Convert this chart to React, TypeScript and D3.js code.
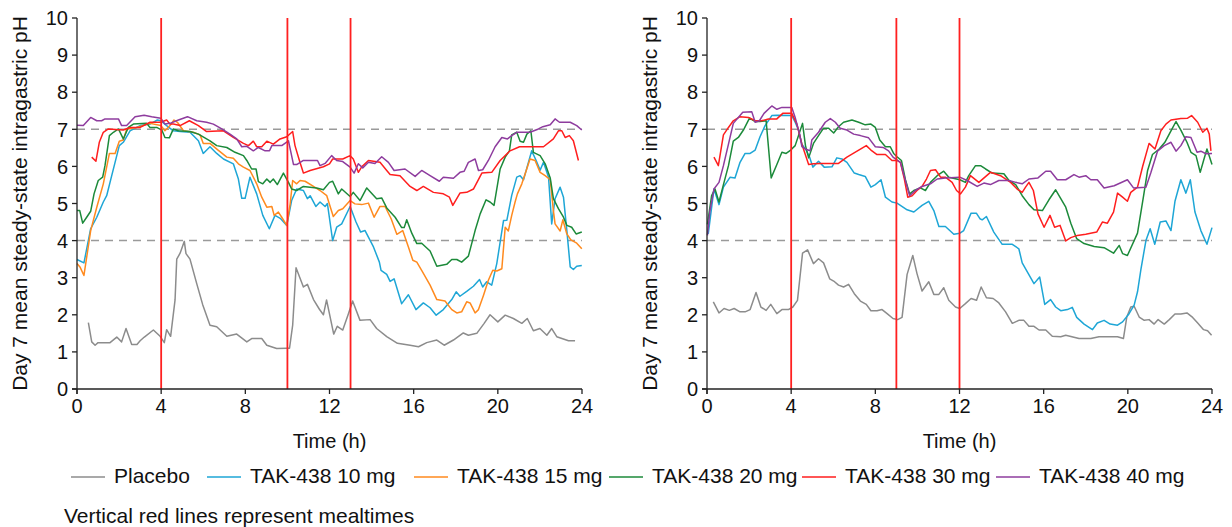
import React from 'react';
import * as d3 from 'd3';

type Pt = [number, number];

// axes
const hourTicks = [0, 4, 8, 12, 16, 20, 24];
const phTicks = [0, 1, 2, 3, 4, 5, 6, 7, 8, 9, 10];
const refLevels = [4, 7];
const mealsLeft = [4, 10, 13];
const mealsRight = [4, 9, 12];

const seriesNames = ['Placebo', 'TAK-438 10 mg', 'TAK-438 15 mg', 'TAK-438 20 mg', 'TAK-438 30 mg', 'TAK-438 40 mg'];
const seriesColors = ['#8c8c8c', '#1ea6d6', '#ff8a1e', '#1c8a3a', '#ff1e1e', '#8e3c9e'];

// left panel  [hour, pH]
const leftPlacebo: Pt[] = [[0.54,1.79],[0.7,1.27],[0.86,1.18],[1.0,1.25],[1.57,1.25],[1.89,1.4],[2.12,1.27],[2.33,1.63],[2.6,1.2],[2.85,1.2],[3.0,1.3],[3.2,1.4],[3.63,1.59],[3.95,1.42],[4.15,1.25],[4.26,1.6],[4.45,1.42],[4.66,2.4],[4.74,3.5],[4.9,3.66],[5.1,3.98],[5.18,3.65],[5.37,3.5],[5.69,2.84],[5.97,2.28],[6.32,1.72],[6.64,1.68],[7.12,1.42],[7.59,1.48],[8.07,1.27],[8.3,1.36],[8.78,1.36],[9.02,1.18],[9.49,1.09],[9.97,1.1],[10.1,1.1],[10.25,1.72],[10.41,3.27],[10.76,2.75],[10.95,2.82],[11.24,2.41],[11.52,2.15],[11.71,2.0],[11.86,2.4],[12.2,1.48],[12.37,1.69],[12.63,1.59],[12.9,2.03],[13.1,2.37],[13.45,1.85],[13.93,1.87],[14.24,1.63],[14.72,1.41],[15.23,1.23],[15.83,1.18],[16.23,1.14],[16.62,1.25],[17.1,1.32],[17.45,1.18],[17.89,1.32],[18.36,1.51],[18.6,1.45],[19.0,1.5],[19.35,1.77],[19.63,2.0],[20.0,1.81],[20.35,1.99],[20.74,1.9],[21.14,1.77],[21.4,1.9],[21.69,1.57],[22.0,1.63],[22.33,1.45],[22.56,1.63],[22.8,1.41],[23.36,1.3],[23.67,1.3]];
const left10: Pt[] = [[0,3.49],[0.33,3.4],[0.65,4.32],[0.94,4.63],[1.25,5.04],[1.41,5.21],[1.65,5.75],[2.01,6.56],[2.2,6.65],[2.52,6.96],[3.0,7.1],[3.47,7.14],[3.82,7.25],[3.98,7.23],[4.26,7.1],[4.58,6.96],[4.9,6.94],[5.37,6.92],[5.77,6.69],[6.0,6.35],[6.32,6.53],[6.64,6.35],[6.96,6.2],[7.43,6.07],[7.67,5.66],[7.83,5.14],[7.99,5.14],[8.22,5.71],[8.54,5.26],[8.83,4.68],[9.14,4.32],[9.41,4.68],[9.68,4.59],[9.97,4.41],[10.2,5.08],[10.44,5.39],[10.76,5.35],[10.95,5.13],[11.08,5.21],[11.35,4.92],[11.55,5.04],[11.79,4.92],[11.9,5.0],[12.15,4.0],[12.34,4.36],[12.58,4.45],[12.98,4.92],[13.26,4.5],[13.48,4.23],[13.69,4.27],[14.09,3.83],[14.37,3.42],[14.45,3.2],[14.72,3.09],[14.88,2.9],[15.07,2.97],[15.43,2.3],[15.75,2.54],[16.11,2.14],[16.46,2.32],[16.78,2.19],[17.07,1.99],[17.41,2.14],[17.81,2.41],[18.02,2.62],[18.2,2.5],[18.52,2.63],[18.84,2.77],[19.13,2.95],[19.28,2.75],[19.47,2.89],[19.71,2.8],[19.95,3.38],[20.27,4.54],[20.43,4.55],[20.66,5.22],[20.9,5.71],[21.06,5.75],[21.22,5.64],[21.34,5.88],[21.61,6.42],[21.82,6.16],[22.01,5.9],[22.17,6.11],[22.41,5.71],[22.56,4.45],[22.72,5.13],[22.96,5.44],[23.12,5.17],[23.28,4.27],[23.44,3.29],[23.59,3.22],[23.75,3.31],[23.99,3.33]];
const left15: Pt[] = [[0,3.38],[0.14,3.29],[0.33,3.06],[0.65,4.27],[0.94,4.9],[1.25,5.53],[1.54,6.35],[1.81,6.35],[2.01,6.68],[2.2,6.71],[2.36,7.0],[2.84,7.05],[3.47,7.16],[3.98,7.1],[4.18,6.96],[4.42,7.1],[4.61,7.25],[4.77,7.19],[5.06,6.96],[5.53,6.92],[5.85,6.85],[6.0,6.62],[6.32,6.62],[6.72,6.43],[7.12,6.25],[7.43,6.22],[7.67,6.07],[7.91,5.98],[8.22,5.89],[8.54,5.53],[8.78,5.17],[9.02,4.9],[9.26,4.92],[9.37,4.68],[9.57,4.77],[9.73,4.63],[9.97,4.41],[10.13,4.99],[10.25,5.62],[10.44,5.53],[10.6,5.62],[10.84,5.6],[11.24,5.46],[11.55,5.35],[11.87,5.21],[12.18,4.65],[12.42,4.81],[12.63,4.86],[12.98,5.08],[13.21,4.99],[13.53,4.97],[13.85,5.01],[14.12,4.63],[14.4,4.92],[14.64,4.92],[14.93,4.59],[15.2,4.17],[15.48,4.27],[15.75,3.83],[15.96,3.47],[16.15,3.42],[16.38,3.2],[16.78,2.8],[17.1,2.41],[17.49,2.37],[17.81,2.14],[18.05,2.05],[18.28,2.08],[18.52,2.35],[18.68,2.32],[18.92,2.05],[19.08,2.14],[19.32,2.53],[19.55,2.93],[19.76,3.2],[19.95,3.18],[20.19,3.24],[20.35,4.36],[20.5,4.26],[20.66,4.68],[20.82,5.04],[20.93,5.26],[21.14,5.53],[21.3,5.8],[21.53,6.2],[21.77,6.16],[22.01,5.84],[22.25,5.75],[22.49,5.64],[22.64,4.81],[22.72,4.45],[22.96,4.26],[23.09,4.56],[23.28,4.18],[23.47,4.02],[23.75,3.93],[23.99,3.78]];
const left20: Pt[] = [[0,4.81],[0.13,4.81],[0.27,4.47],[0.46,4.63],[0.65,4.79],[0.81,5.26],[1.01,5.62],[1.22,5.71],[1.33,6.02],[1.54,6.83],[1.73,6.92],[1.97,7.01],[2.2,6.74],[2.44,7.05],[2.68,7.14],[3.31,7.16],[3.47,7.05],[3.79,7.05],[4.03,6.98],[4.18,6.78],[4.39,6.77],[4.58,7.01],[4.82,6.96],[5.37,6.94],[5.77,6.87],[6.32,6.69],[6.64,6.56],[7.12,6.51],[7.51,6.38],[7.91,6.29],[8.07,6.16],[8.3,5.93],[8.51,5.93],[8.62,5.59],[8.83,5.53],[9.02,5.66],[9.18,5.57],[9.33,5.66],[9.52,5.51],[9.81,5.82],[10.05,5.57],[10.2,5.39],[10.44,5.35],[10.76,5.46],[11.39,5.42],[11.71,5.37],[12.0,5.57],[12.15,5.6],[12.42,5.26],[12.58,5.39],[12.98,5.19],[13.13,5.3],[13.45,5.08],[13.77,5.42],[14.24,5.13],[14.48,5.15],[14.72,4.88],[15.12,4.63],[15.43,4.35],[15.55,4.35],[15.67,4.56],[15.91,4.2],[16.15,3.92],[16.38,3.93],[16.78,3.72],[17.1,3.31],[17.57,3.36],[17.81,3.49],[18.05,3.49],[18.28,3.42],[18.6,3.58],[18.92,4.27],[19.16,4.72],[19.44,5.1],[19.63,5.04],[19.82,4.95],[20.11,5.93],[20.35,6.25],[20.55,6.42],[20.66,6.85],[20.9,6.92],[21.06,6.68],[21.22,6.65],[21.38,6.87],[21.57,6.96],[21.69,6.38],[22.01,6.29],[22.25,6.07],[22.49,5.69],[22.64,5.13],[22.88,4.86],[23.12,4.63],[23.28,4.41],[23.51,4.36],[23.72,4.18],[23.99,4.23]];
const left30: Pt[] = [[0.7,6.25],[0.9,6.14],[1.06,6.65],[1.25,6.92],[1.49,7.01],[2.2,6.98],[2.52,7.05],[3.0,7.05],[3.47,7.19],[3.98,7.19],[4.26,7.25],[4.42,7.14],[4.58,7.14],[4.9,7.1],[5.34,7.23],[5.77,7.1],[6.16,6.94],[6.96,6.96],[7.43,6.78],[7.91,6.62],[8.15,6.56],[8.38,6.68],[8.54,6.53],[8.78,6.53],[9.02,6.68],[9.33,6.6],[9.65,6.74],[9.97,6.8],[10.25,6.94],[10.36,6.56],[10.57,6.16],[10.76,5.82],[11.08,5.89],[11.71,5.99],[12.0,6.07],[12.15,6.2],[12.63,6.2],[12.98,6.29],[13.13,6.2],[13.37,5.84],[13.53,5.99],[13.85,6.16],[14.4,6.11],[14.72,5.89],[14.88,5.78],[15.35,5.75],[15.83,5.46],[16.15,5.35],[16.46,5.46],[16.94,5.3],[17.41,5.26],[17.7,5.17],[17.86,4.95],[18.2,5.28],[18.52,5.3],[18.84,5.39],[19.24,5.82],[19.71,5.84],[20.11,6.16],[20.58,6.42],[21.03,6.53],[22.17,6.53],[22.64,6.74],[22.88,6.96],[23.04,6.96],[23.2,6.78],[23.4,6.83],[23.59,6.69],[23.83,6.16]];
const left40: Pt[] = [[0,7.11],[0.3,7.1],[0.65,7.32],[0.94,7.23],[1.17,7.23],[1.33,7.28],[1.97,7.28],[2.12,7.1],[2.36,7.1],[2.76,7.34],[3.19,7.38],[3.55,7.34],[3.98,7.3],[4.18,7.14],[4.42,7.16],[4.82,7.25],[5.25,7.34],[5.69,7.23],[6.16,7.19],[6.48,7.14],[6.88,7.01],[7.27,6.87],[7.59,6.74],[7.83,6.53],[8.07,6.54],[8.38,6.42],[8.62,6.51],[8.94,6.42],[9.15,6.42],[9.26,6.56],[9.73,6.56],[10.05,6.69],[10.29,6.05],[10.44,6.05],[10.76,6.16],[11.43,6.16],[11.55,6.02],[11.79,6.08],[12.1,6.29],[12.34,6.16],[12.63,6.13],[12.98,5.98],[13.17,5.82],[13.37,6.07],[13.58,5.96],[13.85,6.11],[14.16,6.08],[14.48,6.26],[14.8,6.11],[15.07,5.89],[15.59,5.93],[16.07,5.73],[16.38,5.89],[16.78,5.75],[17.22,5.6],[17.41,5.71],[17.89,5.68],[18.2,5.84],[18.4,5.87],[18.6,6.11],[18.92,6.2],[19.08,5.89],[19.28,5.91],[19.55,6.16],[19.87,6.53],[20.19,6.78],[20.46,6.74],[20.66,6.83],[20.9,6.92],[21.53,6.92],[21.93,7.01],[22.14,7.07],[22.49,7.12],[22.72,7.28],[22.93,7.19],[23.44,7.19],[23.75,7.1],[23.99,6.98]];

// right panel (no 15 mg group)
const rightPlacebo: Pt[] = [[0.3,2.35],[0.57,2.05],[0.81,2.17],[1.06,2.12],[1.29,2.17],[1.57,2.08],[1.81,2.08],[2.05,2.14],[2.33,2.6],[2.56,2.21],[2.81,2.12],[3.03,2.28],[3.32,2.03],[3.56,2.14],[3.87,2.14],[4.08,2.21],[4.3,2.39],[4.54,3.66],[4.78,3.75],[5.06,3.38],[5.3,3.51],[5.54,3.4],[5.83,2.97],[6.02,2.91],[6.25,2.8],[6.49,2.75],[6.73,2.82],[7.0,2.57],[7.29,2.37],[7.57,2.28],[7.79,2.11],[8.08,2.11],[8.32,2.14],[8.56,2.03],[8.84,1.9],[9.06,1.87],[9.27,1.93],[9.51,3.09],[9.78,3.6],[9.98,3.11],[10.22,2.64],[10.54,2.89],[10.78,2.55],[11.02,2.55],[11.25,2.73],[11.49,2.39],[11.81,2.21],[12.01,2.17],[12.28,2.3],[12.55,2.44],[12.81,2.39],[13.03,2.75],[13.28,2.46],[13.6,2.44],[13.87,2.32],[14.19,2.08],[14.51,1.77],[14.82,1.85],[15.06,1.85],[15.3,1.69],[15.54,1.69],[15.78,1.59],[16.1,1.59],[16.41,1.42],[16.81,1.41],[17.05,1.45],[17.68,1.36],[18.24,1.36],[18.63,1.41],[19.1,1.41],[19.51,1.41],[19.79,1.36],[19.95,1.94],[20.14,2.21],[20.3,2.23],[20.54,1.94],[20.78,1.85],[21.01,1.87],[21.25,1.75],[21.44,1.87],[21.73,1.75],[21.97,1.87],[22.24,2.02],[22.52,2.02],[22.81,2.05],[23.08,1.93],[23.32,1.78],[23.6,1.6],[23.79,1.57],[23.98,1.45]];
const right10: Pt[] = [[0.06,4.18],[0.33,5.39],[0.57,4.97],[0.78,5.44],[1.1,5.71],[1.33,5.69],[1.57,6.11],[1.81,6.35],[2.05,6.35],[2.29,6.44],[2.52,6.8],[2.76,7.1],[3.08,7.37],[3.32,7.38],[4.03,7.37],[4.19,7.19],[4.35,6.98],[4.51,6.6],[4.71,6.44],[4.87,6.26],[5.03,5.98],[5.3,6.14],[5.57,5.98],[5.94,5.99],[6.17,6.23],[6.41,6.2],[6.65,6.11],[7.0,5.82],[7.21,5.78],[7.52,5.73],[7.79,5.44],[8.0,5.51],[8.27,5.64],[8.48,5.17],[8.79,5.04],[9.03,5.01],[9.51,4.83],[9.83,4.77],[10.22,4.95],[10.54,5.06],[10.78,4.81],[11.02,4.38],[11.33,4.38],[11.73,4.17],[12.02,4.2],[12.2,4.27],[12.55,4.74],[12.8,4.74],[12.97,4.59],[13.08,4.56],[13.28,4.65],[13.63,4.23],[14.03,3.9],[14.51,3.9],[14.82,3.78],[14.98,3.4],[15.25,3.13],[15.54,2.84],[15.81,3.02],[16.05,2.28],[16.33,2.41],[16.57,2.21],[16.81,2.11],[17.13,2.14],[17.36,2.2],[17.57,1.93],[17.92,1.75],[18.32,1.6],[18.55,1.78],[18.87,1.85],[19.16,1.75],[19.51,1.72],[19.75,1.81],[20.06,2.03],[20.3,2.26],[20.46,2.62],[20.62,3.22],[20.86,4.0],[21.06,4.32],[21.28,3.9],[21.54,4.5],[21.81,4.53],[22.05,4.27],[22.24,5.06],[22.52,5.64],[22.76,5.28],[22.97,5.64],[23.19,4.77],[23.47,4.27],[23.76,3.9],[24.0,4.35]];
const right20: Pt[] = [[0.02,4.44],[0.22,5.21],[0.38,5.39],[0.57,5.04],[0.75,5.44],[1.02,6.02],[1.25,6.68],[1.49,6.78],[1.73,6.98],[2.02,7.3],[2.29,7.21],[2.52,7.21],[2.81,7.23],[3.05,5.69],[3.32,6.05],[3.56,6.38],[3.76,6.35],[3.98,6.44],[4.19,6.56],[4.35,6.83],[4.54,7.16],[4.68,6.56],[4.83,6.23],[5.06,6.62],[5.3,6.83],[5.54,7.03],[5.78,7.03],[6.02,6.9],[6.25,7.07],[6.49,7.19],[6.89,7.25],[7.21,7.19],[7.52,7.12],[7.79,7.14],[8.0,7.05],[8.21,6.71],[8.48,6.53],[8.71,6.53],[8.87,6.35],[9.03,6.26],[9.24,6.16],[9.43,5.64],[9.63,5.26],[9.83,5.35],[10.14,5.42],[10.38,5.35],[10.62,5.57],[10.94,5.75],[11.25,5.87],[11.49,5.71],[12.02,5.64],[12.28,5.57],[12.44,5.75],[12.76,6.02],[13.0,6.02],[13.24,5.93],[13.55,5.82],[14.11,5.8],[14.35,5.62],[14.67,5.51],[14.98,5.21],[15.3,4.97],[15.54,4.83],[15.94,4.81],[16.25,5.1],[16.57,5.37],[17.05,4.9],[17.29,4.47],[17.57,4.05],[17.92,3.92],[18.4,3.84],[18.87,3.81],[19.32,3.66],[19.59,3.87],[19.75,3.65],[19.98,3.6],[20.46,4.2],[20.75,5.21],[20.94,5.89],[21.17,6.32],[21.49,6.47],[21.76,6.65],[22.05,6.96],[22.29,7.21],[22.52,6.98],[22.81,6.65],[23.0,6.38],[23.24,6.29],[23.44,5.84],[23.6,6.16],[23.76,6.47],[24.0,6.05]];
const right30: Pt[] = [[0.33,6.25],[0.54,6.02],[0.78,6.85],[1.02,7.05],[1.25,7.23],[1.57,7.34],[1.97,7.32],[2.29,7.23],[2.6,7.23],[2.92,7.28],[3.32,7.28],[3.6,7.43],[4.03,7.43],[4.27,7.14],[4.51,6.6],[4.83,6.05],[5.06,6.07],[5.38,6.08],[6.25,6.08],[6.65,6.25],[7.13,6.41],[7.57,6.56],[7.79,6.44],[8.08,6.32],[8.48,6.32],[8.79,6.16],[9.03,6.16],[9.19,6.11],[9.38,5.66],[9.54,5.17],[9.75,5.21],[9.98,5.35],[10.22,5.46],[10.43,5.66],[10.62,5.89],[10.86,5.91],[11.1,5.71],[11.33,5.71],[11.65,5.57],[11.86,5.35],[12.05,5.26],[12.28,5.44],[12.52,5.75],[12.92,5.57],[13.47,5.84],[13.95,5.75],[14.43,5.57],[14.74,5.39],[14.98,5.3],[15.14,5.44],[15.3,5.57],[15.51,5.35],[15.73,4.72],[16.02,4.36],[16.3,4.68],[16.52,4.36],[16.78,4.41],[17.05,3.99],[17.29,4.08],[17.6,4.14],[18.0,4.17],[18.52,4.23],[18.79,4.5],[19.03,4.47],[19.32,4.77],[19.51,5.28],[19.75,5.17],[19.98,5.06],[20.14,5.3],[20.46,5.44],[20.7,5.99],[21.01,6.62],[21.29,6.47],[21.57,6.96],[21.81,7.14],[22.05,7.25],[22.52,7.29],[22.84,7.3],[23.03,7.37],[23.32,7.19],[23.56,6.92],[23.76,7.03],[23.87,6.87],[23.95,6.42]];
const right40: Pt[] = [[0.02,4.14],[0.14,4.81],[0.33,5.39],[0.57,5.57],[0.78,6.02],[1.02,6.6],[1.25,7.16],[1.7,7.46],[2.13,7.47],[2.29,7.19],[2.49,7.23],[2.71,7.43],[3.08,7.63],[3.32,7.54],[3.56,7.59],[4.03,7.59],[4.19,7.32],[4.4,6.87],[4.51,6.53],[4.67,6.47],[4.9,6.42],[4.98,6.71],[5.3,6.92],[5.62,7.19],[5.86,7.29],[6.1,7.19],[6.33,7.03],[6.65,6.98],[6.97,6.87],[7.29,6.83],[7.68,6.77],[8.0,6.53],[8.37,6.51],[8.63,6.42],[8.84,6.25],[9.19,6.11],[9.43,5.62],[9.63,5.21],[9.9,5.35],[10.22,5.46],[10.62,5.53],[10.94,5.66],[11.33,5.69],[12.01,5.71],[12.36,5.62],[12.84,5.46],[13.16,5.55],[13.47,5.51],[13.87,5.62],[14.35,5.62],[14.67,5.57],[14.98,5.53],[15.3,5.66],[15.73,5.69],[16.1,5.87],[16.33,5.87],[16.65,5.64],[17.05,5.64],[17.44,5.78],[17.68,5.71],[18.0,5.75],[18.24,5.64],[18.55,5.64],[18.87,5.42],[19.35,5.48],[19.98,5.64],[20.27,5.42],[20.86,5.44],[21.1,5.84],[21.41,6.41],[21.73,6.56],[22.05,6.65],[22.29,6.41],[22.52,6.56],[22.76,6.8],[23.0,6.78],[23.29,6.38],[23.47,6.41],[23.71,6.34],[24.0,6.35]];

const leftSeries: (Pt[] | null)[] = [leftPlacebo, left10, left15, left20, left30, left40];
const rightSeries: (Pt[] | null)[] = [rightPlacebo, right10, null, right20, right30, right40];

const W = 1232;
const H = 527;
const top = 18;
const bottom = 389;
const plotW = 505;
const font = '"Liberation Sans", Arial, Helvetica, sans-serif';
const legendX = [71, 207, 414, 609, 802, 996];

function Panel({ x0, series, meals }: { x0: number; series: (Pt[] | null)[]; meals: number[] }) {
  const x = d3.scaleLinear().domain([0, 24]).range([x0, x0 + plotW]);
  const y = d3.scaleLinear().domain([0, 10]).range([bottom, top]);
  const line = d3.line<Pt>().x(d => x(d[0])).y(d => y(d[1]));

  return (
    <g>
      {refLevels.map(v => (
        <line key={v} x1={x(0)} x2={x(24)} y1={y(v)} y2={y(v)}
          stroke="#9a9a9a" strokeWidth={1.5} strokeDasharray="8,6" />
      ))}
      {series.map((s, i) => s && (
        <path key={i} d={line(s) || ''} fill="none" stroke={seriesColors[i]}
          strokeWidth={1.5} strokeLinejoin="round" />
      ))}
      {meals.map(m => (
        <line key={m} x1={x(m)} x2={x(m)} y1={y(10)} y2={y(0)} stroke="#ff2020" strokeWidth={1.8} />
      ))}

      {/* axes */}
      <g stroke="#222" strokeWidth={1.3}>
        <line x1={x(0)} x2={x(0)} y1={y(10)} y2={bottom + 5} />
        <line x1={x(0) - 5} x2={x(24)} y1={bottom} y2={bottom} />
        {phTicks.map(t => <line key={t} x1={x(0) - 5} x2={x(0)} y1={y(t)} y2={y(t)} />)}
        {hourTicks.map(t => <line key={t} x1={x(t)} x2={x(t)} y1={bottom} y2={bottom + 5} />)}
      </g>
      <g fontFamily={font} fontSize={20} fill="#111">
        {phTicks.map(t => (
          <text key={t} x={x(0) - 9} y={y(t)} dy="0.36em" textAnchor="end">{t}</text>
        ))}
        {hourTicks.map(t => (
          <text key={t} x={x(t)} y={413} textAnchor="middle">{t}</text>
        ))}
        <text x={(x(0) + x(24)) / 2} y={448} textAnchor="middle">Time (h)</text>
        <text transform={`translate(${x0 - 50},${(top + bottom) / 2}) rotate(-90)`} textAnchor="middle" fontSize={21}>
          Day 7 mean steady-state intragastric pH
        </text>
      </g>
    </g>
  );
}

export default function App() {
  return (
    <svg width={W} height={H} style={{ position: 'absolute', left: 0, top: 0, background: '#fff' }}>
      <rect width={W} height={H} fill="#fff" />
      <Panel x0={77} series={leftSeries} meals={mealsLeft} />
      <Panel x0={707} series={rightSeries} meals={mealsRight} />
      <g fontFamily={font} fontSize={21} fill="#111">
        {seriesNames.map((n, i) => (
          <g key={n}>
            <line x1={legendX[i]} x2={legendX[i] + 34} y1={477} y2={477} stroke={seriesColors[i]} strokeWidth={1.5} />
            <text x={legendX[i] + 43} y={483}>{n}</text>
          </g>
        ))}
        <text x={64} y={523}>Vertical red lines represent mealtimes</text>
      </g>
    </svg>
  );
}
